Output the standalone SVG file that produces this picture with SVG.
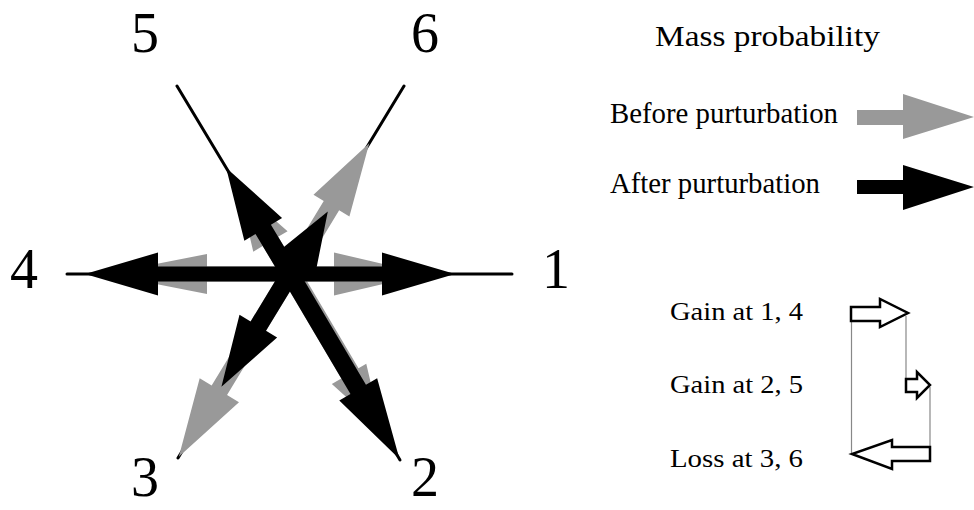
<svg xmlns="http://www.w3.org/2000/svg" width="974" height="510" viewBox="0 0 974 510">
<style>
.axis{stroke:#000;stroke-width:3;stroke-linecap:round;fill:none}
.gray{fill:#999}
.black{fill:#000}
.num{font-family:"Liberation Serif","Times New Roman",serif;font-size:56px;fill:#000;text-anchor:middle}
.leg{font-family:"Liberation Serif","Times New Roman",serif;font-size:30px;fill:#000}
.small{font-family:"Liberation Serif","Times New Roman",serif;font-size:26px;fill:#000}
.hollow{fill:#fff;stroke:#000;stroke-width:2.5;stroke-linejoin:miter}
.guide{stroke:#888;stroke-width:1.2;fill:none}
</style>
<rect width="974" height="510" fill="#fff"/>
<g id="connectors">
  <g id="axes">
    <line class="axis" x1="290" y1="274" x2="512" y2="274"/>
    <line class="axis" x1="290" y1="274" x2="67" y2="274"/>
    <line class="axis" x1="290" y1="274" x2="177" y2="86"/>
    <line class="axis" x1="290" y1="274" x2="404" y2="86"/>
    <line class="axis" x1="290" y1="274" x2="178" y2="458"/>
    <line class="axis" x1="290" y1="274" x2="400" y2="460"/>
  </g>
  <g id="before" class="gray">
    <path transform="translate(290,274) rotate(0)" d="M0,-7.5 L44,-7.5 L44,-21.5 L136,0 L44,21.5 L44,7.5 L0,7.5 Z"/>
    <path transform="translate(290,274) rotate(180)" d="M0,-7.5 L83,-7.5 L83,-20 L185,0 L83,20 L83,7.5 L0,7.5 Z"/>
    <path transform="translate(290,274) rotate(-121)" d="M0,-9 L38,-9 L38,-20 L100,0 L38,20 L38,9 L0,9 Z"/>
    <path transform="translate(290,274) rotate(-58.8)" d="M0,-9 L80,-9 L80,-21 L153,0 L80,21 L80,9 L0,9 Z"/>
    <path transform="translate(290,274) rotate(121.3)" d="M0,-9 L136,-9 L136,-23 L214,0 L136,23 L136,9 L0,9 Z"/>
    <path transform="translate(290,274) rotate(59.4)" d="M0,-11 L116,-11 L116,-20 L180,0 L116,20 L116,9 L0,9 Z"/>
  </g>
  <g id="after" class="black">
    <path transform="translate(290,274) rotate(0)" d="M0,-7.5 L92,-7.5 L92,-21.5 L165,0 L92,21.5 L92,7.5 L0,7.5 Z"/>
    <path transform="translate(290,274) rotate(180)" d="M0,-7.5 L132,-7.5 L132,-21.5 L205,0 L132,21.5 L132,7.5 L0,7.5 Z"/>
    <path transform="translate(290,274) rotate(-121)" d="M0,-9 L52,-9 L52,-22 L124,0 L52,22 L52,9 L0,9 Z"/>
    <path transform="translate(290,274) rotate(-58.8)" d="M0,-9 L12,-9 L12,-22 L73,0 L12,22 L12,9 L0,9 Z"/>
    <path transform="translate(290,274) rotate(121.3)" d="M0,-9 L61,-9 L61,-22 L132,0 L61,22 L61,9 L0,9 Z"/>
    <path transform="translate(290,274) rotate(59.4)" d="M0,-9 L134,-9 L134,-22 L215,0 L134,22 L134,9 L0,9 Z"/>
  </g>
</g>
<g id="node-1"><text class="num" x="556" y="288">1</text></g>
<g id="node-2"><text class="num" x="425" y="496">2</text></g>
<g id="node-3"><text class="num" x="145" y="496">3</text></g>
<g id="node-4"><text class="num" x="24" y="288">4</text></g>
<g id="node-5"><text class="num" x="145" y="52">5</text></g>
<g id="node-6"><text class="num" x="425" y="52">6</text></g>
<g id="legend">
  <text class="leg" x="655" y="46" font-size="33" textLength="225" lengthAdjust="spacingAndGlyphs">Mass probability</text>
  <text class="leg" x="610" y="123" textLength="228" lengthAdjust="spacingAndGlyphs">Before purturbation</text>
  <path class="gray" d="M857,110 L903,110 L903,94 L974,117 L903,139 L903,125 L857,125 Z"/>
  <text class="leg" x="610" y="193" textLength="210" lengthAdjust="spacingAndGlyphs">After purturbation</text>
  <path class="black" d="M857,180 L903,180 L903,165 L974,187 L903,210 L903,194 L857,194 Z"/>
</g>
<g id="changes">
  <text class="small" x="670" y="320" textLength="133" lengthAdjust="spacingAndGlyphs">Gain at 1, 4</text>
  <text class="small" x="670" y="393" textLength="133" lengthAdjust="spacingAndGlyphs">Gain at 2, 5</text>
  <text class="small" x="670" y="467" textLength="133" lengthAdjust="spacingAndGlyphs">Loss at 3, 6</text>
  <line class="guide" x1="851.5" y1="322" x2="851.5" y2="454"/>
  <line class="guide" x1="906" y1="316" x2="906" y2="379"/>
  <line class="guide" x1="930" y1="387" x2="930" y2="447"/>
  <path class="hollow" d="M851,307 L880,307 L880,299 L908,313 L880,327 L880,321 L851,321 Z"/>
  <path class="hollow" d="M906,379 L917,379 L917,372 L930,385 L917,398 L917,392 L906,392 Z"/>
  <path class="hollow" d="M930,447 L892,447 L892,440 L852,454 L892,469 L892,461 L930,461 Z"/>
</g>
</svg>
